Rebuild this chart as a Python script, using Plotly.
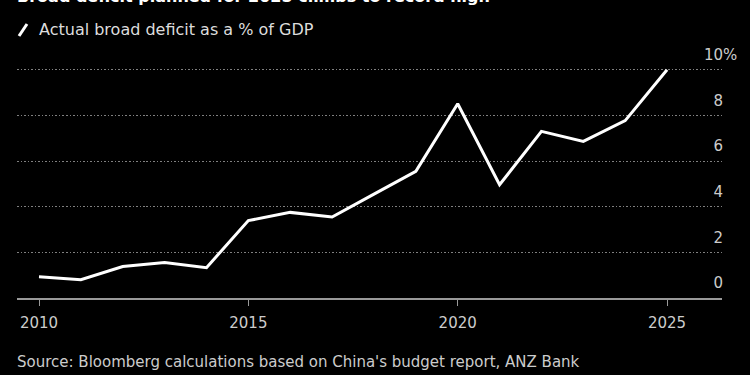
import plotly.graph_objects as go

years = list(range(2010, 2026))
deficit_pct = [0.93, 0.80, 1.38, 1.56, 1.33, 3.39, 3.75, 3.55, 4.55, 5.55,
               8.51, 4.96, 7.30, 6.86, 7.77, 10.0]

x_tickvals = [2010, 2015, 2020, 2025]
y_tickvals = [0, 2, 4, 6, 8, 10]
y_ticktext = ["\u20070", "\u20072", "\u20074", "\u20076", "\u20078", "10%"]

title_text = "Broad deficit planned for 2025 climbs to record high"
series_name = "Actual broad deficit as a % of GDP"
source_text = "Source: Bloomberg calculations based on China's budget report, ANZ Bank"

FONT = "DejaVu Sans"
W, H = 750, 375
ML, MR, MT, MB = 17, 28, 62, 77
PW, PH = W - ML - MR, H - MT - MB
PX_PER_YEAR = 41.87

def px_x(px):
    return (px - ML) / PW

def px_y(py):
    return 1 - (py - MT) / PH

fig = go.Figure()
fig.add_trace(go.Scatter(
    x=years, y=deficit_pct, mode="lines", name=series_name,
    line=dict(color="white", width=3), showlegend=False, hoverinfo="skip",
))

fig.update_layout(
    width=W, height=H,
    margin=dict(l=ML, r=MR, t=MT, b=MB),
    paper_bgcolor="black", plot_bgcolor="black",
    font=dict(family=FONT, size=15, color="#cccccc"),
    xaxis=dict(
        range=[2010 - (39 - ML) / PX_PER_YEAR, 2010 + (W - MR - 39) / PX_PER_YEAR],
        tickvals=x_tickvals,
        showgrid=False, zeroline=False,
        showline=True, linecolor="#9a9a9a", linewidth=1.5,
        ticks="outside", ticklen=6, tickcolor="#9a9a9a", tickwidth=1,
        ticklabelstandoff=4,
        tickfont=dict(size=15, color="#cccccc"),
    ),
    yaxis=dict(
        range=[0, PH / 22.83], side="right",
        anchor="free", position=px_x(701),
        tickvals=y_tickvals, ticktext=y_ticktext,
        ticklabelposition="outside", ticklabelshift=-15, ticklabelstandoff=2,
        showgrid=True, gridcolor="#808080", griddash="1.5px,2px", gridwidth=1,
        zeroline=False, showline=False, ticks="",
        tickfont=dict(size=15, color="#cccccc"),
    ),
)

# title (partly cropped at top)
fig.add_annotation(text="<b>" + title_text + "</b>", xref="paper", yref="paper",
                   x=px_x(15), y=px_y(8), xanchor="left", yanchor="bottom",
                   showarrow=False, font=dict(size=16, color="white", family=FONT))

# legend slash + text
fig.add_shape(type="line", xref="paper", yref="paper",
              x0=px_x(19), y0=px_y(36), x1=px_x(27), y1=px_y(24),
              line=dict(color="white", width=3))
fig.add_annotation(text=series_name, xref="paper", yref="paper",
                   x=px_x(37), y=px_y(30), xanchor="left", yanchor="middle",
                   showarrow=False, font=dict(size=16, color="#dddddd", family=FONT))

# source
fig.add_annotation(text=source_text, xref="paper", yref="paper",
                   x=px_x(15), y=px_y(362), xanchor="left", yanchor="middle",
                   showarrow=False, font=dict(size=15, color="#cccccc", family=FONT))

fig.write_html(
    "out.html",
    config={"displayModeBar": False},
    post_script="document.body.style.margin='0';document.body.style.background='black';",
)
